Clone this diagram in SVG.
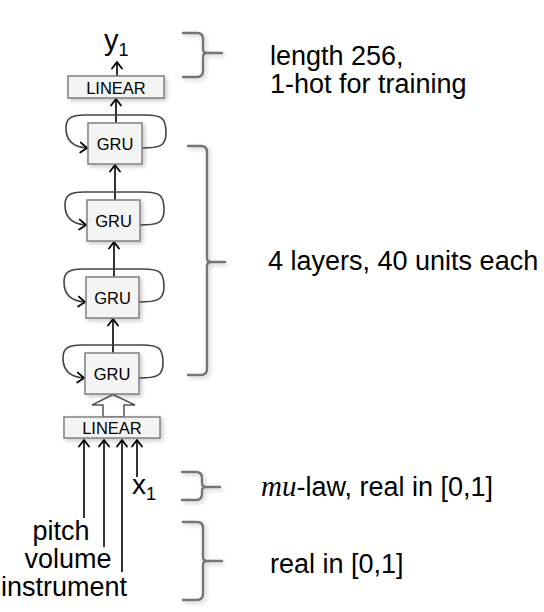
<svg xmlns="http://www.w3.org/2000/svg" width="544" height="612" viewBox="0 0 544 612">
<defs>
<style>
.t{font-family:"Liberation Sans",Arial,Helvetica,sans-serif;fill:#000}
.big{font-size:27px}
.box{fill:#f4f4f4;stroke:#808080;stroke-width:1.5}
.lbl{font-size:16.5px;text-anchor:middle}
.edge{fill:none;stroke:#000;stroke-width:1.6}
.loop{fill:none;stroke:#444;stroke-width:1.6}
.brace{fill:none;stroke:#747474;stroke-width:2.4;stroke-linecap:round;stroke-linejoin:round}
</style>
<marker id="ah" markerUnits="userSpaceOnUse" markerWidth="14" markerHeight="14" refX="0" refY="0" viewBox="-8 -7 10 14" orient="auto" overflow="visible">
<path d="M-6.5,-5 L0,0 L-6.5,5" fill="none" stroke="#000" stroke-width="1.8" stroke-linecap="round" stroke-linejoin="round"/>
</marker>
<filter id="sh" x="-30%" y="-30%" width="160%" height="160%">
<feDropShadow dx="2" dy="2" stdDeviation="2" flood-color="#000" flood-opacity="0.22"/>
</filter>
</defs>
<rect width="544" height="612" fill="#fff"/>

<g id="connectors">
<path class="edge" d="M117,76 V62" marker-end="url(#ah)"/>
<path class="edge" d="M116,123 V99" marker-end="url(#ah)"/>
<path class="edge" d="M115,200 V165" marker-end="url(#ah)"/>
<path class="edge" d="M114,277 V242" marker-end="url(#ah)"/>
<path class="edge" d="M113,353 V319" marker-end="url(#ah)"/>
<polygon points="103,417 103,405 92,405 113,394.5 135,405 124,405 124,417" fill="#fff" stroke="#555" stroke-width="1.5" stroke-linejoin="miter"/>
<path class="edge" d="M84,518 V440" marker-end="url(#ah)"/>
<path class="edge" d="M104,547 V440" marker-end="url(#ah)"/>
<path class="edge" d="M122,572 V440" marker-end="url(#ah)"/>
<path class="edge" d="M137,477 V440" marker-end="url(#ah)"/>
<path class="loop" transform="translate(88,123)" d="M54,25 C72,25 78,23 78,10 C78,-5 74,-8 57,-8 L-3,-8 C-18,-8 -22,-4 -22,5 C-22,17 -16,24 -1,25" marker-end="url(#ah)"/>
<path class="loop" transform="translate(87,200)" d="M53,25 C71,25 77,23 77,10 C77,-5 73,-8 56,-8 L-3,-8 C-18,-8 -22,-4 -22,5 C-22,17 -16,24 -1,25" marker-end="url(#ah)"/>
<path class="loop" transform="translate(86,277)" d="M53,25 C71,25 78,23 78,10 C78,-5 74,-8 57,-8 L-3,-8 C-18,-8 -22,-4 -22,5 C-22,17 -16,24 -1,25" marker-end="url(#ah)"/>
<path class="loop" transform="translate(85,353)" d="M54,25 C72,25 78,23 78,10 C78,-5 74,-8 57,-8 L-3,-8 C-18,-8 -22,-4 -22,5 C-22,17 -16,24 -1,25" marker-end="url(#ah)"/>
</g>

<g id="y1"><text class="t" x="104" y="50" font-size="29">y<tspan font-size="18" dy="6">1</tspan></text></g>

<g id="linear-out">
<rect class="box" x="68" y="76" width="96" height="22" filter="url(#sh)"/>
<text class="t lbl" x="116" y="93.5">LINEAR</text>
</g>

<g id="gru1">
<rect class="box" x="88" y="123" width="54" height="41" filter="url(#sh)"/>
<text class="t lbl" x="115" y="149.5">GRU</text>
</g>
<g id="gru2">
<rect class="box" x="87" y="200" width="53" height="41" filter="url(#sh)"/>
<text class="t lbl" x="113.5" y="226.5">GRU</text>
</g>
<g id="gru3">
<rect class="box" x="86" y="277" width="53" height="41" filter="url(#sh)"/>
<text class="t lbl" x="112.5" y="303.5">GRU</text>
</g>
<g id="gru4">
<rect class="box" x="85" y="353" width="54" height="41" filter="url(#sh)"/>
<text class="t lbl" x="112" y="379.5">GRU</text>
</g>

<g id="linear-in">
<rect class="box" x="64" y="417" width="96" height="21" filter="url(#sh)"/>
<text class="t lbl" x="112" y="433.5">LINEAR</text>
</g>

<g id="x1"><text class="t" x="132" y="494" font-size="28">x<tspan font-size="18" dy="6">1</tspan></text></g>

<g id="inputs">
<text class="t big" x="61" y="540" text-anchor="middle">pitch</text>
<text class="t big" x="68" y="568" text-anchor="middle">volume</text>
<text class="t big" x="64" y="596" text-anchor="middle">instrument</text>
</g>

<g id="braces" filter="url(#sh)">
<path class="brace" d="M183,33 H197 Q203,33 203,39 V49 Q203,53 207,53 H222 M207,53 Q203,53 203,57 V71 Q203,77 197,77 H183"/>
<path class="brace" d="M188,146 H201 Q207,146 207,152 V258 Q207,262 211,262 H225 M211,262 Q207,262 207,266 V369 Q207,375 201,375 H188"/>
<path class="brace" d="M182,472 H196 Q202,472 202,478 V483 Q202,487 206,487 H220 M206,487 Q202,487 202,491 V494 Q202,500 196,500 H182"/>
<path class="brace" d="M183,522 H197 Q203,522 203,528 V557 Q203,561 207,561 H222 M207,561 Q203,561 203,565 V594 Q203,600 197,600 H183"/>
</g>

<g id="labels">
<text class="t big" x="270" y="65">length 256,</text>
<text class="t big" x="270" y="93">1-hot for training</text>
<text class="t big" x="268" y="270">4 layers, 40 units each</text>
<text class="t big" x="261" y="496"><tspan font-family="'Liberation Serif','DejaVu Serif',serif" font-style="italic" font-size="29">mu</tspan>-law, real in [0,1]</text>
<text class="t big" x="270" y="573">real in [0,1]</text>
</g>
</svg>
